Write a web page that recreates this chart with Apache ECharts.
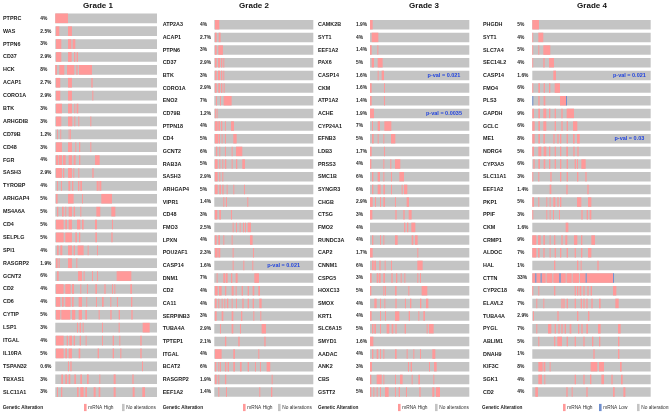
<!DOCTYPE html>
<html><head><meta charset="utf-8">
<script src="https://cdn.jsdelivr.net/npm/echarts@6/dist/echarts.min.js"></script>
<style>html,body{margin:0;padding:0;background:#fff}#c{width:669px;height:414px}</style>
</head><body><div id="c"></div>
<script>
// ---------- DATA ----------
const titles = ['Grade 1', 'Grade 2', 'Grade 3', 'Grade 4'];

// number of sample slots on each panel's x axis
const samplesG1 = 305, samplesG2 = 297, samplesG3 = 298, samplesG4 = 355;

const genesG1 = ['PTPRC','WAS','PTPN6','CD37','HCK','ACAP1','CORO1A','BTK','ARHGDIB','CD79B','CD48','FGR','SASH3','TYROBP','ARHGAP4','MS4A6A','CD4','SELPLG','SPI1','RASGRP2','GCNT2','CD2','CD6','CYTIP','LSP1','ITGAL','IL10RA','TSPAN32','TBXAS1','SLC11A1'];
const pctG1 = ['4%','2.5%','3%','2.9%','8%','2.7%','2.9%','3%','3%','1.2%','3%','4%','2.9%','4%','5%','5%','5%','5%','4%','1.9%','6%','4%','4%','5%','3%','4%','5%','0.6%','3%','3%'];
const highG1 = [
 [[0,38]],
 [[2,12],[38,50]],
 [[2,18],[38,48],[52,60]],
 [[2,18],[38,49],[56,60],[64,68]],
 [[0,5],[12,27],[35,57],[63,67],[71,110]],
 [[2,15],[38,50],[108,112]],
 [[2,15],[38,50],[111,114]],
 [[2,20],[38,50],[57,60],[64,69]],
 [[2,18],[38,51],[57,60],[69,72],[105,108]],
 [[5,7],[15,17],[40,42],[44,46]],
 [[2,20],[38,50],[60,63],[71,75],[105,108]],
 [[2,9],[11,20],[23,31],[40,50],[55,61],[71,75],[119,133]],
 [[2,20],[23,27],[38,50],[54,57],[69,72],[111,115]],
 [[5,8],[17,20],[39,45],[50,54],[68,72],[75,80],[124,130],[132,138]],
 [[2,7],[38,55],[80,83],[138,170]],
 [[5,9],[20,25],[30,33],[40,50],[55,59],[75,78],[123,135],[168,180]],
 [[2,25],[30,35],[40,50],[65,75],[80,85],[119,125],[170,173]],
 [[2,25],[30,50],[60,65],[71,75],[120,125],[168,172]],
 [[5,10],[15,21],[38,50],[55,59],[67,85],[97,100],[125,128]],
 [[2,7],[10,13],[38,50],[63,66]],
 [[5,10],[68,80],[85,88],[110,113],[125,128],[184,228]],
 [[2,25],[30,46],[50,56],[75,78],[95,98],[120,125],[147,151],[170,173],[177,180],[225,230]],
 [[2,15],[20,25],[30,46],[50,55],[70,80],[93,95],[122,125],[140,145],[165,168],[185,188],[227,231]],
 [[2,15],[18,45],[50,60],[70,80],[90,95],[130,133],[165,169],[190,194],[228,232]],
 [[65,68],[73,77],[82,85],[140,143],[190,193],[262,283]],
 [[2,25],[34,38],[42,50],[55,59],[73,77],[91,94],[140,143],[172,176],[192,195],[255,259]],
 [[2,25],[30,35],[40,50],[70,75],[127,131],[172,176],[195,198],[255,259]],
 [[38,41],[45,49],[260,263]],
 [[18,23],[30,35],[40,45],[57,62],[75,80],[95,100],[132,135],[175,181],[231,235]],
 [[5,8],[17,21],[65,70],[75,85],[90,95],[115,121],[130,135],[175,181],[232,238],[261,269]]
];

const genesG2 = ['ATP2A3','ACAP1','PTPN6','CD37','BTK','CORO1A','ENO2','CD79B','PTPN18','CD4','GCNT2','RAB3A','SASH3','ARHGAP4','VIPR1','CD48','FMO3','LPXN','POU2AF1','CASP14','DNM1','CD2','CA11','SERPINB3','TUBA4A','TPTEP1','ITGAL','BCAT2','RASGRP2','EEF1A2'];
const pctG2 = ['4%','2.7%','3%','2.9%','3%','2.9%','7%','1.2%','4%','5%','6%','5%','2.9%','5%','1.4%','3%','2.5%','4%','2.3%','1.6%','7%','4%','4%','3%','2.9%','2.1%','4%','6%','1.9%','1.4%'];
const highG2 = [
 [[2,15]],
 [[2,7],[13,19]],
 [[2,7],[12,26]],
 [[2,7],[11,17],[20,24],[27,30]],
 [[2,7],[11,17],[20,24],[27,30]],
 [[2,7],[12,17],[20,24],[28,31]],
 [[5,8],[17,20],[28,52]],
 [[2,4],[7,9]],
 [[2,10],[12,17],[20,24],[32,34],[50,59]],
 [[2,12],[14,17],[22,24],[32,35],[57,67]],
 [[5,9],[15,18],[32,35],[52,55],[65,84]],
 [[2,10],[15,18],[24,27],[32,36],[52,55],[65,69],[84,92]],
 [[2,10],[15,18],[24,27]],
 [[2,10],[15,20],[24,28],[37,40],[57,60],[89,92]],
 [[27,30],[35,38],[99,102]],
 [[2,9],[15,20],[50,53]],
 [[55,58],[65,68],[76,79],[86,89],[92,95],[100,110]],
 [[2,7],[12,17],[27,30],[52,55],[107,115]],
 [[2,10],[12,18],[55,58],[116,119]],
 [[55,58],[87,90],[114,117]],
 [[7,10],[27,33],[35,40],[50,54],[64,70],[120,134]],
 [[2,10],[14,22],[32,36],[52,58],[64,67],[82,86],[100,104],[115,120],[132,137]],
 [[2,7],[12,15],[22,25],[30,33],[38,42],[52,55],[65,68],[84,88],[100,104],[115,119],[135,142]],
 [[2,7],[22,27],[52,57],[80,84],[117,120],[138,141]],
 [[17,20],[52,57],[77,80],[142,155]],
 [[32,36],[72,76],[150,154]],
 [[2,22],[57,62],[132,135]],
 [[2,6],[12,15],[17,20],[32,36],[40,44],[57,62],[77,82],[100,104],[122,125],[137,140],[157,168]],
 [[2,7],[12,15],[32,36],[172,175]],
 [[12,15],[35,38],[135,138],[170,174]]
];
const pvalG2 = [['CASP14','p-val = 0.021']];

const genesG3 = ['CAMK2B','SYT1','EEF1A2','PAX6','CASP14','CKM','ATP1A2','ACHE','CYP24A1','EFNB3','LDB3','PRSS3','SMC1B','SYNGR3','CHGB','CTSG','FMO2','RUNDC3A','CAP2','CNNM1','CSPG5','HOXC13','SMOX','KRT1','SLC6A15','SMYD1','AADAC','ANK2','CBS','GSTT2'];
const pctG3 = ['1.9%','4%','1.4%','5%','1.6%','1.6%','1.4%','1.9%','7%','5%','1.7%','4%','6%','6%','2.9%','3%','4%','4%','1.7%','6%','3%','5%','4%','4%','5%','1.6%','4%','3%','4%','5%'];
const highG3 = [
 [[0,8]],
 [[5,25]],
 [[0,5],[22,25]],
 [[5,12],[23,38]],
 [[23,26],[35,42]],
 [[0,5],[42,45]],
 [[0,5],[42,45]],
 [[0,12]],
 [[6,9],[23,30],[43,64]],
 [[6,11],[23,26],[40,43],[63,76]],
 [[0,5],[42,45]],
 [[0,4],[40,43],[61,64],[75,91]],
 [[6,10],[23,30],[40,43],[63,66],[88,102]],
 [[6,10],[23,32],[40,45],[63,66],[95,98],[102,112]],
 [[0,8],[15,18],[30,33],[40,45],[75,78],[110,117]],
 [[0,7],[76,80],[100,104],[116,125]],
 [[102,106],[111,115],[124,136]],
 [[6,10],[30,33],[40,43],[75,83],[125,130],[135,143]],
 [[0,8],[142,145]],
 [[6,11],[13,18],[28,32],[44,47],[63,66],[142,158]],
 [[0,5],[20,24],[26,32],[40,45],[64,68],[78,82],[92,95],[103,106],[142,145],[150,153]],
 [[0,4],[40,43],[45,48],[75,80],[115,118],[155,172]],
 [[13,20],[30,33],[43,46],[76,80],[105,108],[120,124],[150,154],[168,175]],
 [[0,5],[30,33],[45,48],[75,88],[116,120],[145,148],[160,165]],
 [[6,10],[13,18],[30,33],[50,58],[65,70],[76,80],[104,108],[170,173],[177,191]],
 [[0,10]],
 [[6,10],[20,25],[30,33],[40,43],[75,80],[110,113],[130,133],[150,153],[187,196]],
 [[0,6],[114,117],[122,126],[177,180],[192,200]],
 [[0,4],[20,35],[40,43],[75,78],[90,98],[125,128],[145,150],[190,193]],
 [[0,4],[10,13],[20,23],[30,33],[45,56],[75,78],[86,90],[108,111],[148,152],[187,193],[198,210]]
];
const pvalG3 = [['CASP14','p-val = 0.021'], ['ACHE','p-val = 0.0035']];

const genesG4 = ['PHGDH','SYT1','SLC7A4','SEC14L2','CASP14','FMO4','PLS3','GAPDH','GCLC','ME1','NDRG4','CYP3A5','SLC11A1','EEF1A2','PKP1','PPIF','CKM','CRMP1','ALDOC','HAL','CTTN','CYP2C18','ELAVL2','TUBA4A','PYGL','ABLIM1','DNAH9','KIF3C','SGK1','CD2'];
const pctG4 = ['5%','4%','5%','4%','1.6%','6%','8%','9%','6%','8%','5%','6%','3%','1.4%','5%','3%','1.6%','9%','7%','1%','33%','4%','7%','2.9%','7%','5%','1%','8%','4%','4%'];
const highG4 = [
 [[0,20]],
 [[0,2],[18,33]],
 [[0,2],[18,21],[33,54]],
 [[0,2],[33,37],[50,65]],
 [[63,71]],
 [[0,3],[18,23],[34,38],[50,54],[67,83]],
 [[18,22],[34,39],[83,101]],
 [[0,5],[18,23],[33,42],[50,54],[67,71],[87,91],[103,125]],
 [[0,7],[18,23],[33,42],[67,71],[87,91],[103,107],[122,135]],
 [[0,7],[18,23],[33,38],[63,67],[75,79],[83,87],[103,107],[122,127],[134,142]],
 [[0,5],[18,27],[34,42],[50,54],[67,71],[83,87],[102,107],[123,127],[135,139]],
 [[3,7],[18,23],[34,39],[50,54],[67,71],[83,87],[103,107],[127,131],[134,137],[147,160]],
 [[0,3],[18,21],[54,58],[83,87],[103,107],[134,138],[159,163]],
 [[52,57],[102,106],[165,169]],
 [[0,5],[18,21],[42,45],[52,55],[63,69],[75,79],[83,87],[134,147],[167,177]],
 [[0,3],[42,45],[52,55],[62,65],[80,83],[147,151],[163,167],[172,177]],
 [[100,108]],
 [[0,12],[17,25],[33,38],[52,55],[65,69],[87,91],[99,105],[125,135],[146,150],[177,188]],
 [[0,12],[17,22],[33,37],[52,55],[67,71],[83,87],[103,107],[127,131],[146,150],[167,177]],
 [[65,69],[134,138],[145,148],[195,199]],
 [[0,9],[12,25],[28,40],[43,60],[63,81],[85,100],[103,118],[121,140],[143,160],[163,242]],
 [[0,3],[18,21],[65,69],[127,131],[134,138],[142,147],[153,157],[165,169],[175,179],[242,252]],
 [[12,15],[33,36],[87,91],[93,97],[103,107],[127,131],[145,149],[153,157],[162,166],[177,181],[200,205],[249,259]],
 [[2,5],[75,79],[134,138],[167,171]],
 [[12,15],[47,57],[67,71],[78,82],[87,91],[97,101],[112,117],[137,141],[147,151],[162,167],[197,205],[257,265]],
 [[18,21],[65,69],[75,89],[103,107],[127,131],[153,157],[179,183],[200,204],[257,261]],
 [[183,187],[257,261]],
 [[18,31],[34,39],[52,55],[175,195],[200,215],[263,268]],
 [[18,29],[36,39],[127,131],[153,157],[173,177],[207,215],[237,241],[266,271]],
 [[9,17],[102,106],[118,121],[162,166],[242,247],[273,279]]
];
// mRNA Low samples: [gene, start, end]
const lowG4 = [['PLS3',0,3],['PLS3',101,104],['CTTN',9,12],['CTTN',25,28],['CTTN',81,85],['CTTN',160,163],['CTTN',242,245]];
const pvalG4 = [['CASP14','p-val = 0.021'], ['ME1','p-val = 0.03']];

const legendItems = [['mRNA High','No alterations'],['mRNA High','No alterations'],['mRNA High','No alterations'],['mRNA High','mRNA Low','No alterations']];

// ---------- STYLE / LAYOUT ----------
const FONT = 'Liberation Sans, Arial, Helvetica, sans-serif';
const COLORS = {none:'#c4c4c4', high:'#ff9999', low:'#6f8fcf'};
const layout = [
 {left:55,    width:102,   top:11.85, height:386.7, labelX:2.7,   pctX:40,    titleX:98,  pvalFrac:0},
 {left:214.3, width:99,    top:18.4,  height:380,   labelX:162.7, pctX:200,   titleX:254, pvalFrac:0.70},
 {left:370,   width:99.3,  top:18.4,  height:380,   labelX:318,   pctX:356,   titleX:424, pvalFrac:0.745},
 {left:532.3, width:118.4, top:18.4,  height:380,   labelX:483,   pctX:517.3, titleX:592, pvalFrac:0.82}
];
const legendLayout = [
 {gx:2.7,   items:[84,122]},
 {gx:162.7, items:[243,278]},
 {gx:318,   items:[398,435]},
 {gx:482,   items:[563,599,637]}
];
const LEGEND_Y = 407.5;

const panels = [
 {genes:genesG1, pct:pctG1, high:highG1, low:[], pval:[], n:samplesG1},
 {genes:genesG2, pct:pctG2, high:highG2, low:[], pval:pvalG2, n:samplesG2},
 {genes:genesG3, pct:pctG3, high:highG3, low:[], pval:pvalG3, n:samplesG3},
 {genes:genesG4, pct:pctG4, high:highG4, low:lowG4, pval:pvalG4, n:samplesG4}
];

function segRender(params, api) {
  const r = api.value(0), s = api.value(1), e = api.value(2), t = api.value(3);
  const a = api.coord([s, r]), b = api.coord([e, r]);
  const band = api.size([0, 1])[1];
  const h = band * 0.75;
  const fill = t === 0 ? COLORS.none : (t === 1 ? COLORS.high : COLORS.low);
  return {type:'rect', shape:{x:a[0], y:a[1] - h / 2, width:Math.max(b[0] - a[0], 0.9), height:h}, style:{fill:fill}};
}

const grid = [], xAxis = [], yAxis = [], series = [], graphic = [];
panels.forEach((p, k) => {
  const L = layout[k];
  grid.push({left:L.left, top:L.top, width:L.width, height:L.height});
  xAxis.push({type:'value', gridIndex:k, min:0, max:p.n, show:false});
  const lblBase = {interval:0, hideOverlap:false, align:'left', fontFamily:FONT, fontWeight:'bold', color:'#1a1a1a'};
  yAxis.push({type:'category', gridIndex:k, data:p.genes, inverse:true, position:'left',
    axisLine:{show:false}, axisTick:{show:false}, splitLine:{show:false},
    axisLabel:Object.assign({}, lblBase, {margin:L.left - L.labelX, fontSize:5.4})});
  yAxis.push({type:'category', gridIndex:k, data:p.pct, inverse:true, position:'left',
    axisLine:{show:false}, axisTick:{show:false}, splitLine:{show:false},
    axisLabel:Object.assign({}, lblBase, {margin:L.left - L.pctX, fontSize:4.9})});
  const data = [];
  p.genes.forEach((g, i) => data.push([i, 0, p.n, 0]));
  p.high.forEach((segs, i) => segs.forEach(s => data.push([i, s[0], s[1], 1])));
  p.low.forEach(l => data.push([p.genes.indexOf(l[0]), l[1], l[2], 2]));
  series.push({type:'custom', xAxisIndex:k, yAxisIndex:2 * k, renderItem:segRender,
    encode:{x:[1, 2], y:0}, data:data, silent:true, animation:false});
  if (p.pval.length) {
    series.push({type:'custom', xAxisIndex:k, yAxisIndex:2 * k, silent:true, animation:false,
      data:p.pval.map(v => [p.genes.indexOf(v[0]), L.pvalFrac * p.n, v[1]]),
      encode:{x:1, y:0},
      renderItem:function (params, api) {
        const c = api.coord([api.value(1), api.value(0)]);
        return {type:'text', x:c[0], y:c[1], style:{text:p.pval[params.dataIndex][1], fill:'#2244dd',
          font:'bold 5.5px ' + FONT, align:'center', verticalAlign:'middle'}};
      }});
  }
  graphic.push({type:'text', x:L.titleX, y:6, style:{text:titles[k], fill:'#111', font:'bold 8px ' + FONT, align:'center', verticalAlign:'middle'}});
  const LL = legendLayout[k];
  graphic.push({type:'text', x:LL.gx, y:LEGEND_Y, style:{text:'Genetic Alteration', fill:'#222', font:'bold 4.7px ' + FONT, align:'left', verticalAlign:'middle'}});
  legendItems[k].forEach((name, j) => {
    const col = name === 'mRNA High' ? COLORS.high : (name === 'mRNA Low' ? COLORS.low : COLORS.none);
    graphic.push({type:'rect', shape:{x:LL.items[j], y:LEGEND_Y - 3.6, width:2.6, height:7.2}, style:{fill:col}});
    graphic.push({type:'text', x:LL.items[j] + 4.2, y:LEGEND_Y, style:{text:name, fill:'#333', font:'4.8px ' + FONT, align:'left', verticalAlign:'middle'}});
  });
});

const chart = echarts.init(document.getElementById('c'), null, {renderer:'canvas'});
chart.setOption({animation:false, backgroundColor:'#fff', grid, xAxis, yAxis, series, graphic});
</script>
</body></html>
